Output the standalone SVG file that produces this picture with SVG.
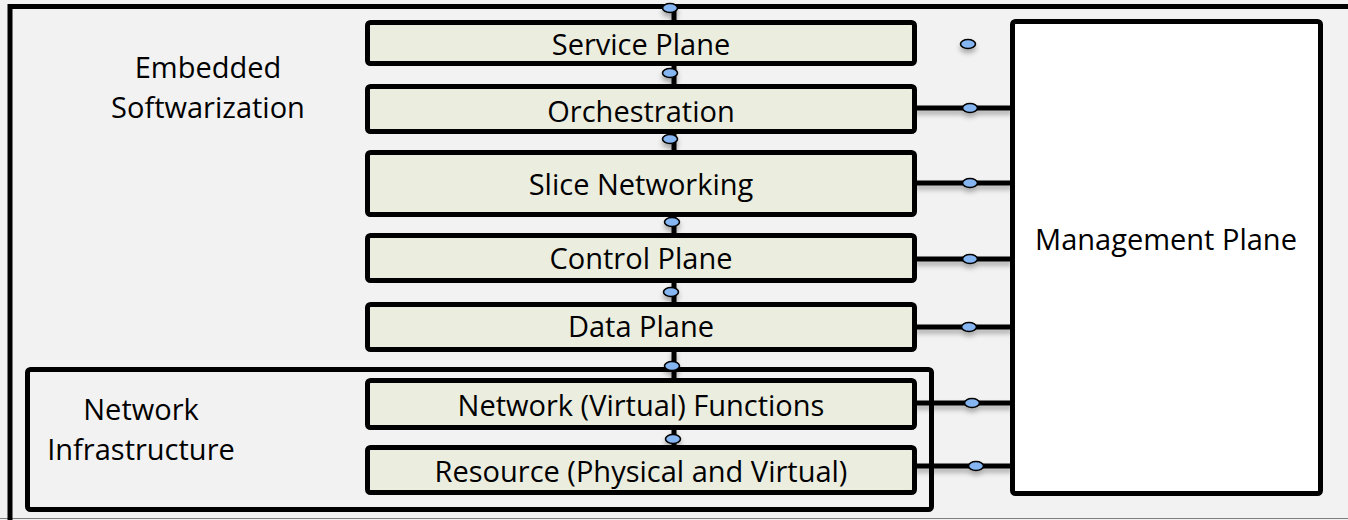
<svg xmlns="http://www.w3.org/2000/svg" width="1348" height="520" viewBox="0 0 1348 520">
  <defs>
    <filter id="sh" x="-20%" y="-50%" width="140%" height="300%">
      <feDropShadow dx="0" dy="4" stdDeviation="2.5" flood-color="#000" flood-opacity="0.3"/>
    </filter>
    <style>
      .layer { fill: #ebeddf; stroke: #000; stroke-width: 5; }
      .lbl { font-family: "Open Sans", "Liberation Sans", sans-serif; font-size: 29px; fill: #000; text-anchor: middle; }
      .wire { stroke: #000; stroke-width: 5; fill: none; }
      .port { fill: #86b6f2; stroke: #000; stroke-width: 1.6; }
    </style>
  </defs>

  <rect x="0" y="0" width="1348" height="520" fill="#f2f2f2"/>
  <line x1="0" y1="518.5" x2="1348" y2="518.5" stroke="#7f7f7f" stroke-width="1"/>
  <path d="M10,520 V6.5 H1348" fill="none" stroke="#000" stroke-width="5"/>

  <g id="embedded-label">
    <text class="lbl" x="208" y="78">Embedded</text>
    <text class="lbl" x="208" y="118">Softwarization</text>
  </g>

  <g id="network-infrastructure">
    <rect x="27.5" y="369.5" width="904" height="140" rx="3" fill="none" stroke="#000" stroke-width="5"/>
    <text class="lbl" x="141" y="420">Network</text>
    <text class="lbl" x="141" y="460">Infrastructure</text>
  </g>

  <g id="connectors" filter="url(#sh)">
    <path class="wire" d="M674,6 V22 M674,64 V86 M674,132 V152 M674,215 V235 M674,281 V304 M674,349 V380 M674,428 V447"/>
    <path class="wire" d="M915,108 H1012 M915,183 H1012 M915,259 H1012 M915,327 H1012 M915,403 H1012 M915,466 H1012"/>
    <ellipse class="port" cx="670" cy="8" rx="7.5" ry="4.5"/>
    <ellipse class="port" cx="670" cy="73" rx="7.5" ry="4.5"/>
    <ellipse class="port" cx="670" cy="139" rx="7.5" ry="4.5"/>
    <ellipse class="port" cx="672" cy="222" rx="7.5" ry="4.5"/>
    <ellipse class="port" cx="671" cy="292" rx="7.5" ry="4.5"/>
    <ellipse class="port" cx="672" cy="366" rx="7.5" ry="4.5"/>
    <ellipse class="port" cx="673" cy="439" rx="7.5" ry="4.5"/>
    <ellipse class="port" cx="968" cy="44" rx="7.5" ry="4.5"/>
    <ellipse class="port" cx="970" cy="108" rx="7.5" ry="4.5"/>
    <ellipse class="port" cx="970" cy="183" rx="7.5" ry="4.5"/>
    <ellipse class="port" cx="970" cy="259" rx="7.5" ry="4.5"/>
    <ellipse class="port" cx="969" cy="327" rx="7.5" ry="4.5"/>
    <ellipse class="port" cx="972" cy="403" rx="7.5" ry="4.5"/>
    <ellipse class="port" cx="976" cy="466" rx="7.5" ry="4.5"/>
  </g>

  <g id="service-plane">
    <rect class="layer" x="367.5" y="22.5" width="547" height="41" rx="3"/>
    <text class="lbl" x="641" y="55">Service Plane</text>
  </g>
  <g id="orchestration">
    <rect class="layer" x="367.5" y="86.5" width="547" height="45" rx="3"/>
    <text class="lbl" x="641" y="122">Orchestration</text>
  </g>
  <g id="slice-networking">
    <rect class="layer" x="367.5" y="152.5" width="547" height="62" rx="3"/>
    <text class="lbl" x="641" y="195">Slice Networking</text>
  </g>
  <g id="control-plane">
    <rect class="layer" x="367.5" y="235.5" width="547" height="45" rx="3"/>
    <text class="lbl" x="641" y="269">Control Plane</text>
  </g>
  <g id="data-plane">
    <rect class="layer" x="367.5" y="304.5" width="547" height="45" rx="3"/>
    <text class="lbl" x="641" y="337">Data Plane</text>
  </g>
  <g id="network-functions">
    <rect class="layer" x="367.5" y="380.5" width="547" height="47" rx="3"/>
    <text class="lbl" x="641" y="416">Network (Virtual) Functions</text>
  </g>
  <g id="resource">
    <rect class="layer" x="367.5" y="447.5" width="547" height="45" rx="3"/>
    <text class="lbl" x="641" y="482">Resource (Physical and Virtual)</text>
  </g>

  <g id="management-plane">
    <rect x="1012.5" y="21.5" width="308" height="472" rx="3" fill="#fff" stroke="#000" stroke-width="5"/>
    <text class="lbl" x="1166" y="250">Management Plane</text>
  </g>
</svg>
